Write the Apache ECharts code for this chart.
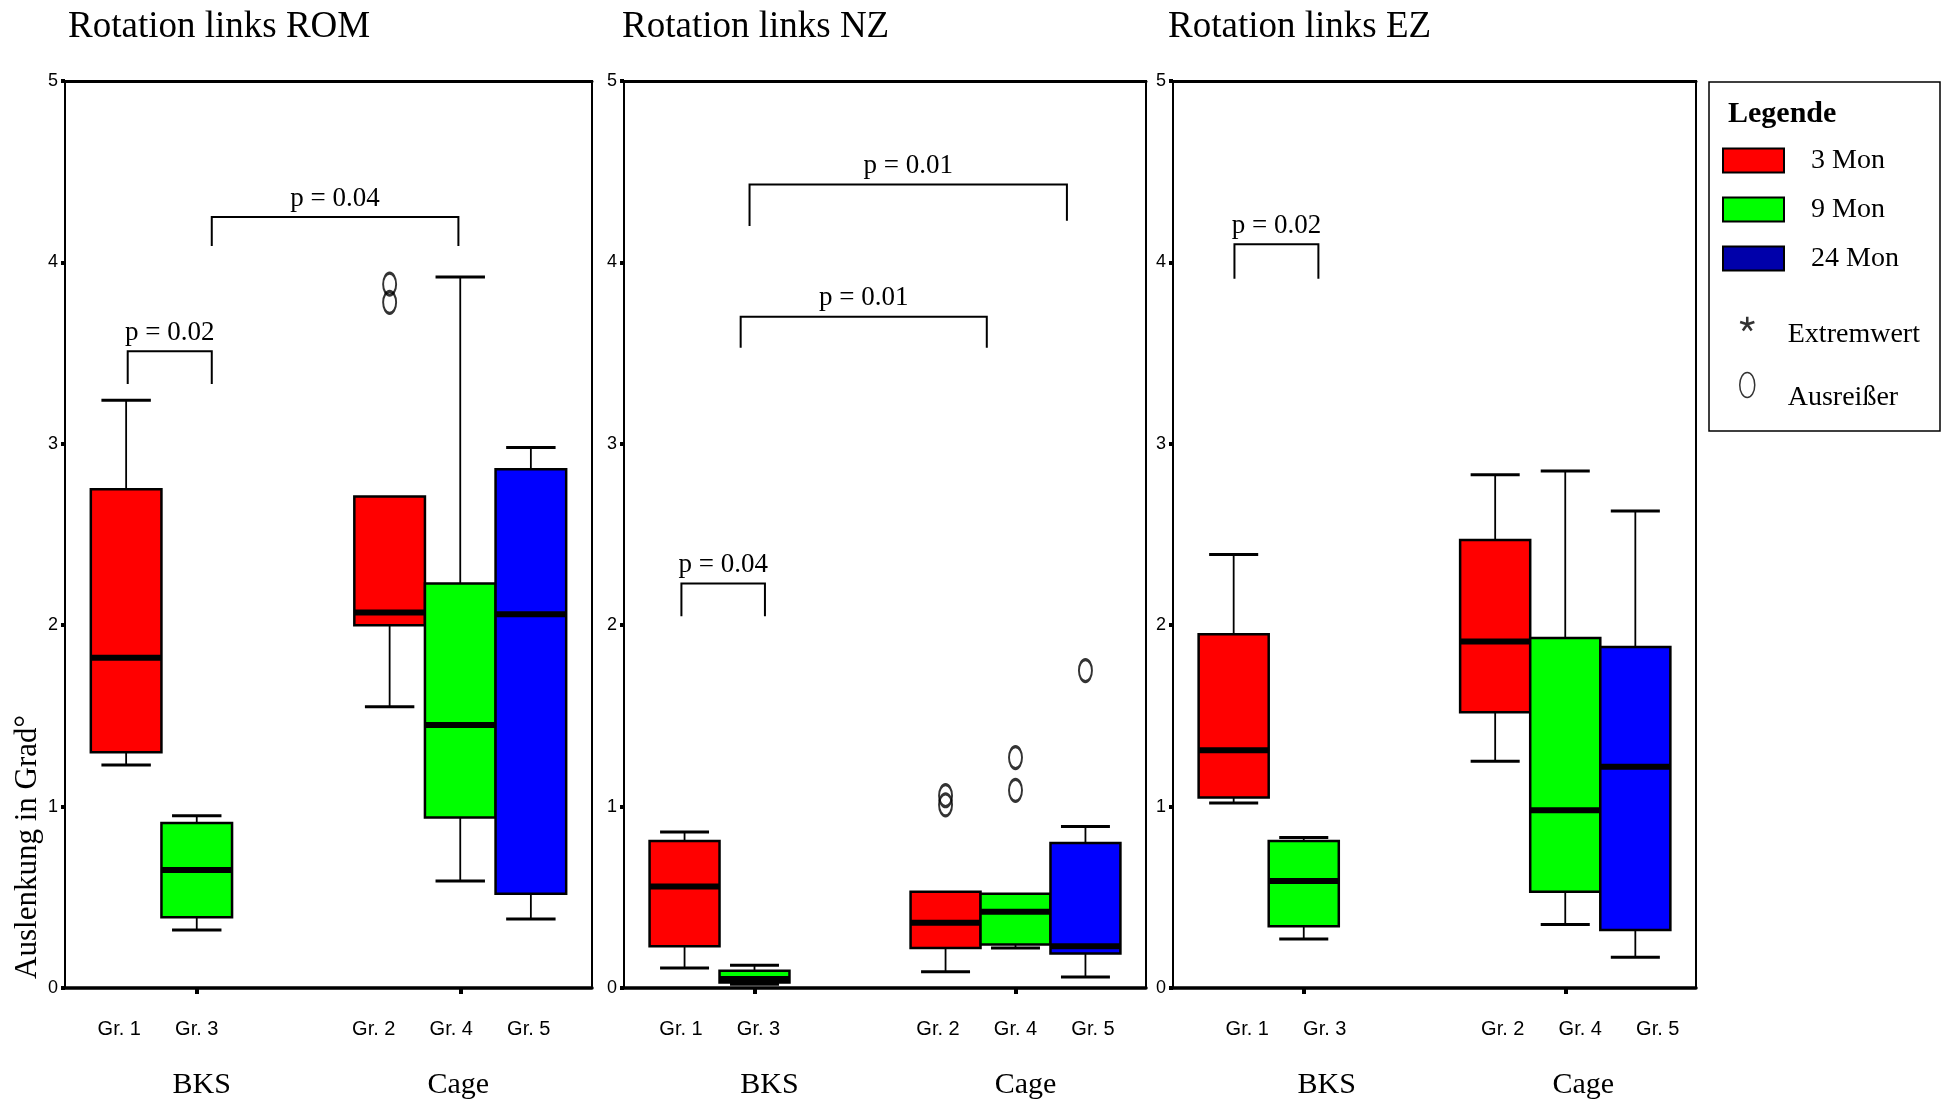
<!DOCTYPE html>
<html>
<head>
<meta charset="utf-8">
<title>Rotation links</title>
<script src="https://cdn.jsdelivr.net/npm/echarts@6/dist/echarts.min.js"></script>
<style>
  html, body { margin: 0; padding: 0; background: #fff; }
  #chart { width: 1944px; height: 1105px; }
</style>
</head>
<body>
<div id="chart"></div>
<script>
var panelTitles = ['Rotation links ROM', 'Rotation links NZ', 'Rotation links EZ'];
var categories = ['BKS', 'Cage'];
var timeGroups = ['3 Mon', '9 Mon', '24 Mon'];
var groupLabels = [['Gr. 1', 'Gr. 3', ''], ['Gr. 2', 'Gr. 4', 'Gr. 5']];

// [low whisker, Q1, median, Q3, high whisker] for BKS, Cage
var rom3 = [[1.23, 1.30, 1.82, 2.75, 3.24], [1.55, 2.00, 2.07, 2.71, 2.71]];
var rom9 = [[0.32, 0.39, 0.65, 0.91, 0.95], [0.59, 0.94, 1.45, 2.23, 3.92]];
var rom24 = [null, [0.38, 0.52, 2.06, 2.86, 2.98]];
var nz3 = [[0.11, 0.23, 0.56, 0.81, 0.86], [0.09, 0.22, 0.36, 0.53, 0.53]];
var nz9 = [[0.02, 0.03, 0.05, 0.095, 0.125], [0.22, 0.24, 0.42, 0.52, 0.52]];
var nz24 = [null, [0.06, 0.19, 0.23, 0.80, 0.89]];
var ez3 = [[1.02, 1.05, 1.31, 1.95, 2.39], [1.25, 1.52, 1.91, 2.47, 2.83]];
var ez9 = [[0.27, 0.34, 0.59, 0.81, 0.83], [0.35, 0.53, 0.98, 1.93, 2.85]];
var ez24 = [null, [0.17, 0.32, 1.22, 1.88, 2.63]];

// outliers: [category index, group index, value]
var romOut = [[1, 0, 3.88], [1, 0, 3.78]];
var nzOut = [[1, 0, 1.06], [1, 0, 1.01], [1, 1, 1.27], [1, 1, 1.09], [1, 2, 1.75]];
var ezOut = [];

// p-value brackets: [x left, x right, y bar, y left leg end, y right leg end] (x in category units)
var romP = [[-0.262, 0.057, 3.51, 3.33, 3.33], [0.057, 0.993, 4.25, 4.09, 4.09]];
var romPText = ['p = 0.02', 'p = 0.04'];
var nzP = [[-0.280, 0.040, 2.23, 2.05, 2.05], [-0.053, 0.890, 3.70, 3.53, 3.53], [-0.019, 1.197, 4.43, 4.20, 4.23]];
var nzPText = ['p = 0.04', 'p = 0.01', 'p = 0.01'];
var ezP = [[-0.265, 0.056, 4.10, 3.91, 3.91]];
var ezPText = ['p = 0.02'];

var panels = [
  {boxes: [rom3, rom9, rom24], outliers: romOut, brackets: romP, pText: romPText},
  {boxes: [nz3, nz9, nz24], outliers: nzOut, brackets: nzP, pText: nzPText},
  {boxes: [ez3, ez9, ez24], outliers: ezOut, brackets: ezP, pText: ezPText}
];

// layout
var GRID_LEFT = [65, 624, 1173];
var GRID_WIDTH = [527, 522, 523];
var TITLE_LEFT = [68, 622, 1168];
var GR_SHIFT = [[0, -9], [4, 0], [21, 15]];
var CAT_SHIFT = [[5, -2], [15, 10], [23, 18]];
var SLOT = 77.5;
var BOX_W = 0.268;
var COLORS = ['#ff0000', '#00ff00', '#0000ff'];
var SERIF = '"Liberation Serif", "Times New Roman", serif';
var SANS = '"Liberation Sans", Arial, sans-serif';

// five-armed asterisk for the legend
function asteriskPath() {
  var d = '';
  [-90, -18, 54, 126, 198].forEach(function (deg) {
    var a = deg * Math.PI / 180, dx = Math.cos(a), dy = Math.sin(a);
    var nx = -dy * 1.7, ny = dx * 1.7;
    var pts = [
      [10 - dx + nx, 10 - dy + ny], [10 + dx * 10 + nx, 10 + dy * 10 + ny],
      [10 + dx * 10 - nx, 10 + dy * 10 - ny], [10 - dx - nx, 10 - dy - ny]
    ];
    d += 'M' + pts.map(function (p) { return p[0].toFixed(2) + ',' + p[1].toFixed(2); }).join('L') + 'Z';
  });
  return 'path://' + d;
}
var ELLIPSE = 'path://M7.5,0A7.5,12.5,0,1,1,7.5,25A7.5,12.5,0,1,1,7.5,0Z';

var chart = echarts.init(document.getElementById('chart'));

function withPad(text, shift, padName) {
  if (shift > 0) return '{' + padName + '|\u00a0}' + text;
  if (shift < 0) return text + '{' + padName + '|\u00a0}';
  return text;
}

function renderBox(params, api) {
  var x = api.value(0);
  var half = api.size([BOX_W, 0])[0] / 2;
  var capHalf = half * 0.7;
  var pLow = api.coord([x, api.value(1)]);
  var pQ1 = api.coord([x, api.value(2)]);
  var pMed = api.coord([x, api.value(3)]);
  var pQ3 = api.coord([x, api.value(4)]);
  var pHigh = api.coord([x, api.value(5)]);
  var cx = pQ1[0];
  var stem = {stroke: '#000', lineWidth: 1.8};
  var cap = {stroke: '#000', lineWidth: 3};
  var kids = [];
  if (pHigh[1] < pQ3[1] - 1) {
    kids.push({type: 'line', shape: {x1: cx, y1: pQ3[1], x2: cx, y2: pHigh[1]}, style: stem});
    kids.push({type: 'line', shape: {x1: cx - capHalf, y1: pHigh[1], x2: cx + capHalf, y2: pHigh[1]}, style: cap});
  }
  if (pLow[1] > pQ1[1] + 1) {
    kids.push({type: 'line', shape: {x1: cx, y1: pQ1[1], x2: cx, y2: pLow[1]}, style: stem});
    kids.push({type: 'line', shape: {x1: cx - capHalf, y1: pLow[1], x2: cx + capHalf, y2: pLow[1]}, style: cap});
  }
  kids.push({
    type: 'rect',
    shape: {x: cx - half, y: pQ3[1], width: half * 2, height: pQ1[1] - pQ3[1]},
    style: {fill: api.visual('color'), stroke: '#000', lineWidth: 2.5}
  });
  kids.push({
    type: 'line',
    shape: {x1: cx - half, y1: pMed[1], x2: cx + half, y2: pMed[1]},
    style: {stroke: '#000', lineWidth: 6}
  });
  return {type: 'group', children: kids};
}

function bracketRenderer(texts) {
  return function (params, api) {
    var xl = api.value(0), xr = api.value(1);
    var top = api.coord([xl, api.value(2)])[1];
    var l = api.coord([xl, api.value(3)]);
    var r = api.coord([xr, api.value(4)]);
    return {
      type: 'group',
      children: [{
        type: 'polyline',
        shape: {points: [[l[0], l[1]], [l[0], top], [r[0], top], [r[0], r[1]]]},
        style: {stroke: '#000', lineWidth: 2, fill: null}
      }, {
        type: 'text',
        x: (l[0] + r[0]) / 2,
        y: top - 5,
        style: {
          text: texts[params.dataIndex],
          fill: '#000',
          font: '27px ' + SERIF,
          align: 'center', verticalAlign: 'bottom',
          textAlign: 'center', textVerticalAlign: 'bottom'
        }
      }]
    };
  };
}

var grids = [], xAxes = [], yAxes = [], series = [], titles = [];

panels.forEach(function (p, i) {
  titles.push({
    text: panelTitles[i], left: TITLE_LEFT[i], top: 8.5, padding: 0,
    textStyle: {fontFamily: SERIF, fontSize: 37, fontWeight: 'normal', color: '#000'}
  });
  grids.push({
    left: GRID_LEFT[i], width: GRID_WIDTH[i], top: 81, bottom: 117,
    show: true, borderColor: '#000', borderWidth: 2, backgroundColor: 'transparent',
    outerBoundsMode: 'none'
  });

  var grRich = {
    g: {width: SLOT, align: 'center', fontFamily: SANS, fontSize: 20, lineHeight: 24, color: '#000'},
    a: {width: Math.abs(GR_SHIFT[i][0]) * 2, align: 'center', lineHeight: 24},
    b: {width: Math.abs(GR_SHIFT[i][1]) * 2, align: 'center', lineHeight: 24}
  };
  xAxes.push({
    type: 'category', gridIndex: i, position: 'bottom', data: categories,
    axisLine: {show: true, onZero: false, lineStyle: {color: '#000', width: 3.5}},
    axisTick: {show: true, alignWithLabel: true, length: 6, lineStyle: {color: '#000', width: 4}},
    splitLine: {show: false},
    axisLabel: {
      interval: 0, margin: 29, rich: grRich,
      formatter: function (value, idx) {
        var txt = groupLabels[idx].map(function (t) { return '{g|' + (t || '\u00a0') + '}'; }).join('');
        return withPad(txt, GR_SHIFT[i][idx], idx ? 'b' : 'a');
      }
    }
  });

  var catRich = {
    n: {fontFamily: SERIF, fontSize: 30, lineHeight: 36, color: '#000', align: 'center'},
    a: {width: Math.abs(CAT_SHIFT[i][0]) * 2, align: 'center', lineHeight: 36},
    b: {width: Math.abs(CAT_SHIFT[i][1]) * 2, align: 'center', lineHeight: 36}
  };
  xAxes.push({
    type: 'category', gridIndex: i, position: 'bottom', data: categories,
    axisLine: {show: false, onZero: false},
    axisTick: {show: false},
    splitLine: {show: false},
    axisLabel: {
      interval: 0, margin: 79, rich: catRich,
      formatter: function (value, idx) {
        return withPad('{n|' + value + '}', CAT_SHIFT[i][idx], idx ? 'b' : 'a');
      }
    }
  });

  xAxes.push({
    type: 'value', gridIndex: i, position: 'top', min: -0.5, max: 1.5,
    axisLine: {show: true, onZero: false, lineStyle: {color: '#000', width: 3}},
    axisTick: {show: false}, axisLabel: {show: false}, splitLine: {show: false}
  });

  yAxes.push({
    type: 'value', gridIndex: i, min: 0, max: 5, interval: 1,
    axisLine: {show: true, onZero: false, lineStyle: {color: '#000', width: 2}},
    axisTick: {show: true, length: 4, lineStyle: {color: '#000', width: 4}},
    axisLabel: {margin: 7, fontFamily: SANS, fontSize: 18, color: '#000'},
    splitLine: {show: false}
  });

  var xIdx = i * 3 + 2;
  p.boxes.forEach(function (boxes, g) {
    var data = [];
    boxes.forEach(function (b, c) {
      if (b) data.push([c + (g - 1) * BOX_W].concat(b));
    });
    series.push({
      type: 'custom', name: timeGroups[g], xAxisIndex: xIdx, yAxisIndex: i,
      itemStyle: {color: COLORS[g]},
      encode: {x: 0, y: [1, 2, 3, 4, 5]},
      renderItem: renderBox, data: data, z: 2, silent: true
    });
  });

  series.push({
    type: 'scatter', name: 'Ausreißer', xAxisIndex: xIdx, yAxisIndex: i,
    symbol: 'circle', symbolSize: [13, 22],
    itemStyle: {color: 'rgba(0,0,0,0)', borderColor: '#000', borderWidth: 2.5},
    data: p.outliers.map(function (o) { return [o[0] + (o[1] - 1) * BOX_W, o[2]]; }),
    z: 3, silent: true
  });

  series.push({
    type: 'custom', name: 'p', xAxisIndex: xIdx, yAxisIndex: i,
    encode: {x: [0, 1], y: [2, 3, 4]},
    renderItem: bracketRenderer(p.pText), data: p.brackets, z: 3, silent: true
  });
});

series.push({
  type: 'scatter', name: 'Extremwert', xAxisIndex: 2, yAxisIndex: 0,
  symbol: 'circle', itemStyle: {color: '#000'}, data: []
});

var option = {
  backgroundColor: '#fff',
  animation: false,
  title: titles,
  grid: grids,
  xAxis: xAxes,
  yAxis: yAxes,
  legend: [{
    orient: 'vertical', left: 1722, top: 146.5, padding: 0,
    icon: 'rect', itemWidth: 61, itemHeight: 24, itemGap: 21,
    selectedMode: false,
    itemStyle: {borderColor: '#000', borderWidth: 2},
    data: [
      {name: '3 Mon', itemStyle: {color: '#ff0000', borderColor: '#000', borderWidth: 2}},
      {name: '9 Mon', itemStyle: {color: '#00ff00', borderColor: '#000', borderWidth: 2}},
      {name: '24 Mon', itemStyle: {color: '#0000aa', borderColor: '#000', borderWidth: 2}}
    ],
    formatter: '{t|{name}}',
    textStyle: {rich: {t: {fontFamily: SERIF, fontSize: 28, color: '#000', padding: [0, 0, 0, 22]}}}
  }, {
    orient: 'vertical', left: 1739, top: 299.5, padding: 0,
    itemWidth: 15, itemHeight: 25, itemGap: 9.5,
    selectedMode: false,
    data: [
      {name: 'Extremwert', icon: asteriskPath(), itemStyle: {color: '#000', borderWidth: 0}},
      {name: 'Ausreißer', icon: ELLIPSE, itemStyle: {color: 'rgba(0,0,0,0)', borderColor: '#000', borderWidth: 1.5}}
    ],
    formatter: function (name) {
      return (name === 'Extremwert' ? '{e|' : '{u|') + name + '}';
    },
    textStyle: {rich: {
      e: {fontFamily: SERIF, fontSize: 28, lineHeight: 30, color: '#000', padding: [21, 0, 0, 28]},
      u: {fontFamily: SERIF, fontSize: 28, lineHeight: 30, color: '#000', padding: [26, 0, 0, 28]}
    }}
  }],
  graphic: [{
    type: 'rect', silent: true,
    shape: {x: 1709, y: 82, width: 231, height: 349},
    style: {fill: 'rgba(0,0,0,0)', stroke: '#000', lineWidth: 1.5}
  }, {
    type: 'text', silent: true, x: 1728, y: 114,
    style: {text: 'Legende', font: 'bold 30px ' + SERIF, fill: '#000',
            align: 'left', verticalAlign: 'middle', textAlign: 'left', textVerticalAlign: 'middle'}
  }, {
    type: 'text', silent: true, x: 28, y: 847, rotation: Math.PI / 2,
    style: {text: 'Auslenkung in Grad°', font: '31px ' + SERIF, fill: '#000',
            align: 'center', verticalAlign: 'middle', textAlign: 'center', textVerticalAlign: 'middle'}
  }],
  series: series
};

chart.setOption(option);
</script>
</body>
</html>
